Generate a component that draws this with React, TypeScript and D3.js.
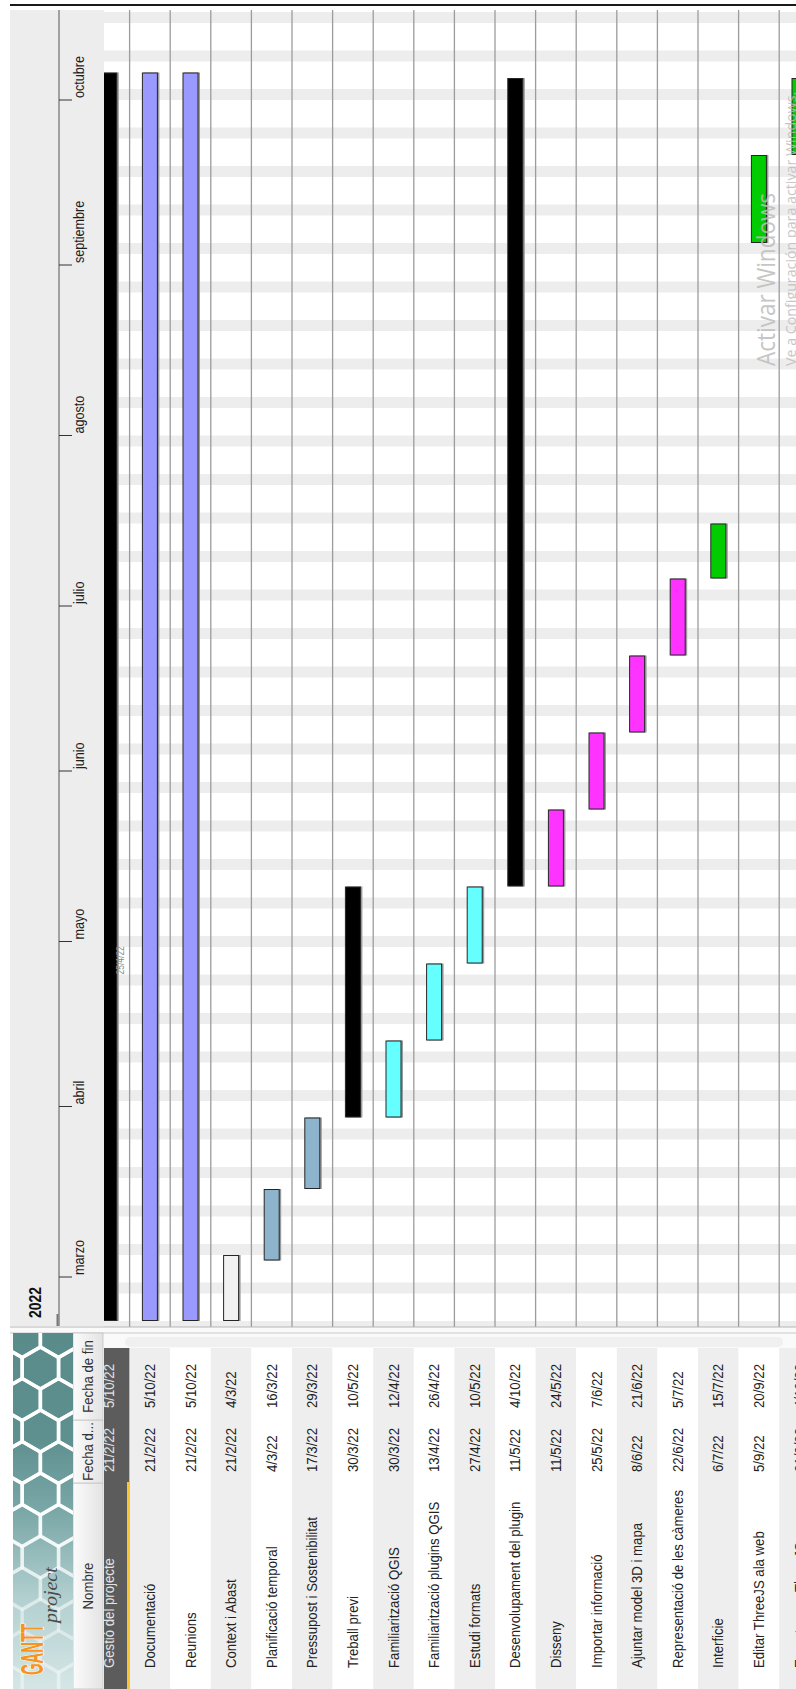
import * as d3 from 'd3'

// task table, in the order shown in GanttProject
const taskNames = [
  'Gestió del projecte', 'Documentació', 'Reunions', 'Context i Abast',
  'Planificació temporal', 'Pressupost i Sostenibilitat', 'Treball previ',
  'Familiarització QGIS', 'Familiarització plugins QGIS', 'Estudi formats',
  'Desenvolupament del plugin', 'Disseny', 'Importar informació',
  'Ajuntar model 3D i mapa', 'Representació de les càmeres', 'Interficie',
  'Editar ThreeJS ala web', 'Exportar per ThreeJS',
]
const startDates = [
  '2022-02-21', '2022-02-21', '2022-02-21', '2022-02-21', '2022-03-04', '2022-03-17',
  '2022-03-30', '2022-03-30', '2022-04-13', '2022-04-27', '2022-05-11', '2022-05-11',
  '2022-05-25', '2022-06-08', '2022-06-22', '2022-07-06', '2022-09-05', '2022-09-21',
]
const endDates = [
  '2022-10-05', '2022-10-05', '2022-10-05', '2022-03-04', '2022-03-16', '2022-03-29',
  '2022-05-10', '2022-04-12', '2022-04-26', '2022-05-10', '2022-10-04', '2022-05-24',
  '2022-06-07', '2022-06-21', '2022-07-05', '2022-07-15', '2022-09-20', '2022-10-04',
]
const taskKinds = [
  'summary', 'doc', 'doc', 'context', 'plan', 'plan', 'summary', 'study', 'study', 'study',
  'summary', 'dev', 'dev', 'dev', 'dev', 'web', 'web', 'web',
]
const kindColors: Record<string, string> = {
  summary: '#000000', doc: '#9999ff', context: '#f2f2f2', plan: '#8db4cc',
  study: '#66ffff', dev: '#ff33ff', web: '#00cc00',
}
const monthNames = ['enero', 'febrero', 'marzo', 'abril', 'mayo', 'junio', 'julio', 'agosto', 'septiembre', 'octubre', 'noviembre', 'diciembre']
const yearLabel = '2022'
const todayDate = '2022-04-25'
const columnHeaders = ['Nombre', 'Fecha d...', 'Fecha de fin']
const watermark = ['Activar Windows', 'Ve a Configuración para activar Windows.']

const parse = d3.utcParse('%Y-%m-%d')
const fmt = d3.utcFormat('%-d/%-m/%y')

// screen is a GanttProject window turned 90deg counter-clockwise.
// u = along time (original x), v = across rows (original y)
const W = 796
const H = 1689
const ROW0 = 89
const ROW_H = 40.6
const CHART_U0 = 362
const CHART_U1 = 1679
const HEAD_V0 = 10
const HEAD_V1 = 104
const TABLE_U1 = 341
const BAR_H = 16
const FONT = "'Liberation Sans', Arial, Helvetica, sans-serif"

const T = ({ u, v, size, sq = 0.88, anchor = 'start', fill = '#222', weight = 'normal', family = FONT, style = 'normal', stroke = 'none', sw = 0, children }: any) => (
  <text
    transform={`translate(${u},${v}) scale(${sq},1)`}
    fontSize={size}
    textAnchor={anchor}
    fill={fill}
    fontWeight={weight}
    fontFamily={family}
    fontStyle={style}
    stroke={stroke}
    strokeWidth={sw}
    paintOrder="stroke"
  >
    {children}
  </text>
)

export default function App() {
  const rows = taskNames.map((name, i) => ({
    name,
    start: parse(startDates[i])!,
    end: parse(endDates[i])!,
    kind: taskKinds[i],
  }))

  const x = d3.scaleUtc()
    .domain([new Date(Date.UTC(2022, 2, 1)), new Date(Date.UTC(2022, 9, 1))])
    .range([412, 1589])

  const y = d3.scaleBand<number>()
    .domain(d3.range(rows.length))
    .range([ROW0, ROW0 + ROW_H * rows.length])

  const saturdays = d3.utcSaturday.range(x.invert(CHART_U0 - 12), x.invert(CHART_U1 + 12))
  const months = x.ticks(d3.utcMonth.every(1)!)
  const today = parse(todayDate)!

  // honeycomb for the logo
  const hexR = 21
  const hexes: { pts: string, op: number }[] = []
  for (let c = 0; c < 13; c++) {
    for (let r = 0; r < 3; r++) {
      const cu = c * hexR * 1.5 + 6
      const cv = 4 + r * hexR * Math.sqrt(3) + (c % 2 ? hexR * Math.sqrt(3) / 2 : 0)
      const pts = d3.range(6).map(k => {
        const a = (Math.PI / 3) * k
        return `${cu + hexR * Math.cos(a)},${cv + hexR * Math.sin(a)}`
      }).join(' ')
      hexes.push({ pts, op: Math.max(0.25, Math.min(0.95, (cu - 30) / 180)) })
    }
  }

  return (
    <svg width={W} height={H} style={{ position: 'absolute', left: 0, top: 0, background: '#fff' }}>
      <defs>
        <clipPath id="chartClip">
          <rect x={CHART_U0} y={HEAD_V1} width={CHART_U1 - CHART_U0} height={W - HEAD_V1} />
        </clipPath>
        <clipPath id="tableClip">
          <rect x={0} y={HEAD_V1} width={TABLE_U1} height={W - HEAD_V1} />
        </clipPath>
        <clipPath id="logoClip">
          <rect x={0} y={13} width={356} height={60} />
        </clipPath>
        <linearGradient id="logoGrad" x1="0" x2="1" y1="0" y2="0">
          <stop offset="0" stopColor="#d6e6e6" />
          <stop offset="0.25" stopColor="#b3d0d0" />
          <stop offset="0.5" stopColor="#7aa7a7" />
          <stop offset="0.7" stopColor="#5f9090" />
          <stop offset="1" stopColor="#5a8b8b" />
        </linearGradient>
        <linearGradient id="headGrad" x1="0" x2="0" y1="0" y2="1">
          <stop offset="0" stopColor="#fbfbfb" />
          <stop offset="1" stopColor="#e3e3e3" />
        </linearGradient>
      </defs>

      <g transform={`translate(0,${H}) rotate(-90)`}>
        {/* chart body */}
        <g clipPath="url(#chartClip)">
          <rect x={CHART_U0} y={HEAD_V1} width={CHART_U1 - CHART_U0} height={W - HEAD_V1} fill="#fff" />
          {saturdays.map((s, i) => (
            <rect key={i} x={x(s)} y={HEAD_V1} width={x(d3.utcDay.offset(s, 2)) - x(s)} height={W - HEAD_V1} fill="#ededed" />
          ))}
          {d3.range(1, rows.length + 1).map(i => (
            <line key={i} x1={CHART_U0} x2={CHART_U1} y1={y(i) ?? ROW0 + ROW_H * i} y2={y(i) ?? ROW0 + ROW_H * i} stroke="#9c9c9c" strokeWidth={1.3} />
          ))}
          {rows.map((r, i) => {
            const u0 = x(r.start)
            const u1 = x(d3.utcDay.offset(r.end, 1))
            const v0 = y(i)! + y.bandwidth() / 2 - BAR_H / 2
            return (
              <g key={i}>
                <rect x={u0} y={v0 + 1.5} width={u1 - u0} height={BAR_H} fill="#9a9a9a" />
                <rect x={u0 + 0.5} y={v0 + 0.5} width={u1 - u0 - 1} height={BAR_H - 1} fill={kindColors[r.kind]} stroke="#262626" strokeWidth={1} />
              </g>
            )
          })}
          <T u={x(today)} v={124} size={10} sq={0.85} fill="#8c8c8c">{fmt(today)}</T>
        </g>

        {/* timeline header */}
        <rect x={CHART_U0 + 1} y={HEAD_V0} width={CHART_U1 - CHART_U0 - 1} height={HEAD_V1 - HEAD_V0} fill="#ededed" />
        <line x1={CHART_U0 + 1} x2={CHART_U1} y1={59} y2={59} stroke="#555" strokeWidth={1} />
        <line x1={CHART_U0 + 1} x2={CHART_U0 + 13} y1={57.5} y2={57.5} stroke="#777" strokeWidth={2} />
        {months.map((m, i) => (
          <g key={i}>
            <line x1={x(m)} x2={x(m)} y1={59} y2={72} stroke="#333" strokeWidth={1} />
            <T u={x(m) + 2} v={84} size={14} sq={0.9} fill="#1e1e1e">{monthNames[m.getUTCMonth()]}</T>
          </g>
        ))}
        <T u={371} v={41} size={17} sq={0.82} weight="bold" fill="#111">{yearLabel}</T>

        {/* separators between chart and table */}
        <rect x={341} y={HEAD_V0} width={21} height={W - HEAD_V0} fill="#fafafa" />
        <line x1={362} x2={362} y1={HEAD_V0} y2={W} stroke="#b5b5b5" strokeWidth={1} />
        <line x1={356} x2={356} y1={HEAD_V0} y2={W} stroke="#c9c9c9" strokeWidth={1} />
        <rect x={342} y={125} width={10} height={658} rx={5} fill="#f0f0f0" />

        {/* task table */}
        <g clipPath="url(#tableClip)">
          {rows.map((r, i) => (
            <rect key={i} x={0} y={y(i)!} width={TABLE_U1} height={y.bandwidth()}
              fill={i === 0 ? '#5c5c5c' : i % 2 ? '#eeeeee' : '#ffffff'} />
          ))}
          {rows.map((r, i) => {
            const v = y(i)! + y.bandwidth() / 2 + 5
            const c = i === 0 ? '#e4e4e4' : '#222'
            return (
              <g key={i}>
                <T u={21} v={v} size={15} fill={c}>{r.name}</T>
                <T u={217} v={v} size={15} fill={c}>{fmt(r.start)}</T>
                <T u={281} v={v} size={15} fill={c}>{fmt(r.end)}</T>
              </g>
            )
          })}
          <rect x={0} y={127} width={207} height={3} fill="#f9c531" />
        </g>

        {/* column headers */}
        {[[0, 206], [206, 269], [269, 356]].map(([a, b], i) => (
          <g key={i}>
            <rect x={a} y={73} width={b - a} height={30} fill="url(#headGrad)" stroke="#c4c4c4" strokeWidth={0.8} />
            <T u={(a + b) / 2} v={93} size={15} anchor="middle" fill="#333">{columnHeaders[i]}</T>
          </g>
        ))}

        {/* logo */}
        <g clipPath="url(#logoClip)">
          <rect x={0} y={13} width={356} height={60} fill="url(#logoGrad)" />
          {hexes.map((h, i) => (
            <polygon key={i} points={h.pts} fill="none" stroke="#fff" strokeWidth={3.5} strokeOpacity={h.op} />
          ))}
          <T u={14} v={43} size={31} sq={0.48} weight="bold" fill="#f7941d" stroke="#ffffff" sw={1.5}>GANTT</T>
          <T u={66} v={57} size={19} sq={1.05} style="italic" family="'Liberation Serif', 'DejaVu Serif', serif" fill="#4a4a4a">project</T>
        </g>

        {/* top border */}
        <rect x={H - 6} y={HEAD_V0} width={2} height={W - HEAD_V0} fill="#1a1a1a" />

        {/* windows watermark */}
        <g opacity={0.85}>
          <T u={1323} v={775} size={25} sq={0.9} family="'Open Sans', 'Noto Sans', sans-serif" fill="#bdbdbd">{watermark[0]}</T>
          <T u={1323} v={796} size={15} sq={0.95} family="'Open Sans', 'Noto Sans', sans-serif" fill="#bdbdbd">{watermark[1]}</T>
        </g>
      </g>
    </svg>
  )
}
